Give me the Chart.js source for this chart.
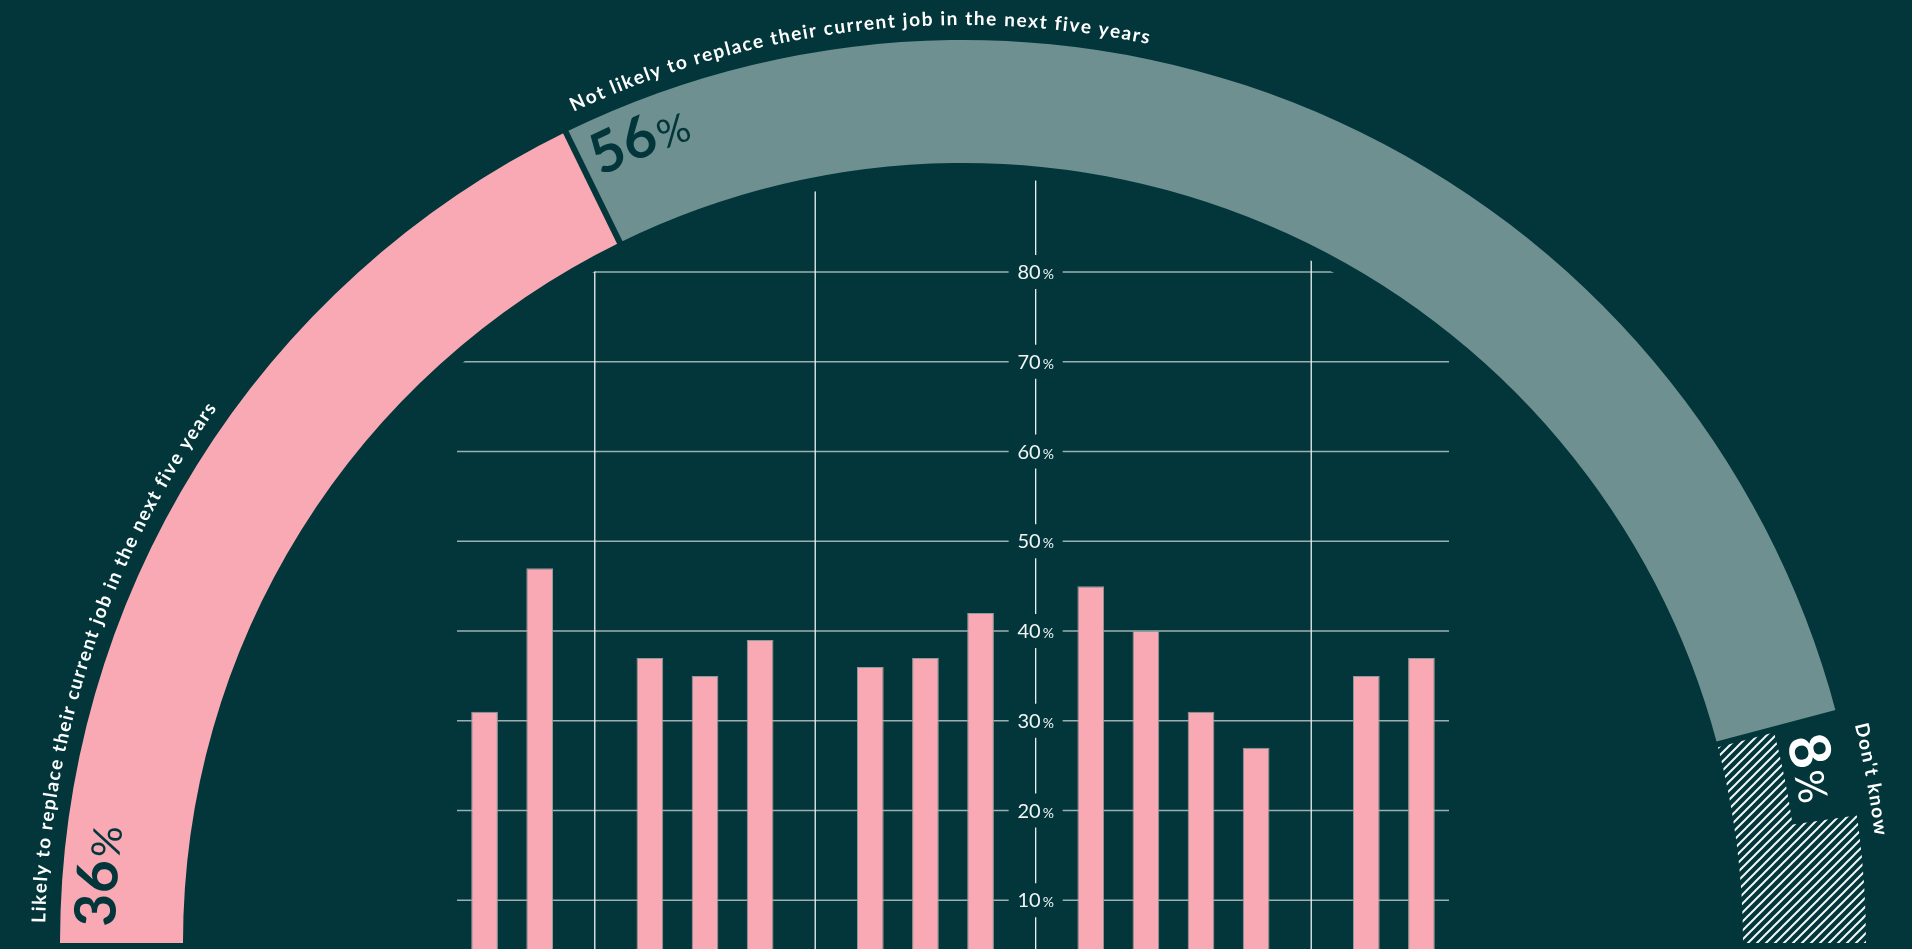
<!DOCTYPE html>
<html><head><meta charset="utf-8">
<script src="https://cdn.jsdelivr.net/npm/chart.js@4.4.1/dist/chart.umd.min.js"></script>
<style>
html,body{margin:0;padding:0;background:#02363a;overflow:hidden;width:1912px;height:949px;}
canvas{position:absolute;left:0;top:0;}
</style></head><body>
<canvas id="ring" width="1912" height="949"></canvas>
<canvas id="bars" width="1912" height="1000"></canvas>
<script>
// ---- data ----
const segmentLabels = ['Likely to replace their current job in the next five years',
                       'Not likely to replace their current job in the next five years',
                       "Don't know"];
const segmentValues = [35.5, 56.3, 8.2];   // arc sizes as read from the ring (printed rounded)
const categories = ['1','2','','3','4','5','','6','7','8','','9','10','11','12','','13','14'];
const barValues  = [31, 47, null, 37, 35, 39, null, 36, 37, 42, null, 45, 40, 31, 27, null, 35, 37];
const yTicks = [10, 20, 30, 40, 50, 60, 70, 80];
const tickSuffix = '%';

// ---- styles ----
const BG = '#02363a', PINK = '#f9a9b4', GREY = '#6e9090', WHITE = '#ffffff';
const FONT = 'Lato, "Open Sans", sans-serif';

function makeHatch(ctx) {
  const s = 9, c = document.createElement('canvas');
  c.width = s; c.height = s;
  const g = c.getContext('2d');
  g.fillStyle = BG; g.fillRect(0, 0, s, s);
  g.strokeStyle = '#f2f6f6'; g.lineWidth = 2;
  g.beginPath();
  g.moveTo(0, s); g.lineTo(s, 0);
  g.moveTo(-1, 1); g.lineTo(1, -1);
  g.moveTo(s - 1, s + 1); g.lineTo(s + 1, s - 1);
  g.stroke();
  return ctx.createPattern(c, 'repeat');
}

function arcLen(ctx, parts, ls) {
  let L = 0;
  for (const p of parts) {
    ctx.font = p.font; L += (p.gap || 0);
    for (const ch of p.t) L += ctx.measureText(ch).width + ls;
  }
  return L;
}
function arcText(ctx, parts, cx, cy, r, a0, color, ls) {
  let a = a0;
  ctx.save();
  ctx.fillStyle = color; ctx.textAlign = 'left'; ctx.textBaseline = 'alphabetic';
  for (const p of parts) {
    ctx.font = p.font; a += (p.gap || 0) / r;
    for (const ch of p.t) {
      const w = ctx.measureText(ch).width;
      ctx.save();
      ctx.translate(cx + r * Math.cos(a), cy + r * Math.sin(a));
      ctx.rotate(a + Math.PI / 2);
      ctx.fillText(ch, 0, 0);
      ctx.restore();
      a += (w + ls) / r;
    }
  }
  ctx.restore();
  return a;
}

const ringDecor = {
  id: 'ringDecor',
  afterDatasetsDraw(chart) {
    const ctx = chart.ctx;
    const arcs = chart.getDatasetMeta(0).data;
    const cx = arcs[0].x, cy = arcs[0].y, ri = arcs[0].innerRadius, ro = arcs[0].outerRadius;
    // separators
    ctx.save();
    ctx.strokeStyle = BG; ctx.lineWidth = 6;
    for (let i = 1; i < arcs.length; i++) {
      const a = arcs[i].startAngle;
      ctx.beginPath();
      ctx.moveTo(cx + (ri - 2) * Math.cos(a), cy + (ri - 2) * Math.sin(a));
      ctx.lineTo(cx + (ro + 2) * Math.cos(a), cy + (ro + 2) * Math.sin(a));
      ctx.stroke();
    }
    ctx.restore();
    // value labels
    const valR = ri + 68;
    const valOffset = [16, 12, 13];
    segmentValues.forEach((v, i) => {
      const parts = [{ t: String(Math.round(v)), font: '700 57px ' + FONT },
                     { t: '%', font: '400 40px ' + FONT, gap: 2 }];
      const a0 = arcs[i].startAngle + valOffset[i] / valR;
      const color = i === 2 ? WHITE : BG;
      if (i === 2) {
        const L = arcLen(ctx, parts, 0);
        const a1 = a0 + (L + 18) / valR;
        ctx.save();
        ctx.fillStyle = BG;
        ctx.beginPath();
        ctx.arc(cx, cy, ro + 6, arcs[i].startAngle, a1);
        ctx.arc(cx, cy, valR - 10, a1, arcs[i].startAngle, true);
        ctx.closePath();
        ctx.fill();
        ctx.restore();
      }
      arcText(ctx, parts, cx, cy, valR, a0, color, 0);
    });
    // outer labels
    const labR = ro + 15;
    const labOffset = [20, 16, 16];
    segmentLabels.forEach((t, i) => {
      const a0 = arcs[i].startAngle + labOffset[i] / labR;
      arcText(ctx, [{ t, font: '700 19px ' + FONT }], cx, cy, labR, a0, WHITE, 1.55);
    });
  }
};

const ringCanvas = document.getElementById('ring');
const hatch = makeHatch(ringCanvas.getContext('2d'));

const ringChart = new Chart(ringCanvas, {
  type: 'doughnut',
  data: {
    labels: segmentLabels,
    datasets: [{ data: segmentValues, backgroundColor: [PINK, GREY, hatch], borderWidth: 0 }]
  },
  options: {
    responsive: false, animation: false, events: [],
    rotation: -90, circumference: 180, radius: 903, cutout: '86.38%',
    layout: { padding: { left: 14, top: 34, right: 0, bottom: 0 } },
    plugins: { legend: { display: false }, tooltip: { enabled: false } }
  },
  plugins: [ringDecor]
});

const gridPlugin = {
  id: 'gridPlugin',
  beforeDatasetsDraw(chart) {
    const ctx = chart.ctx;
    const ring = ringChart.getDatasetMeta(0).data[0];
    const cx = ring.x, cy = ring.y, clipR = ring.innerRadius - 14;
    const { left, right } = chart.chartArea;
    const xs = chart.scales.x, ys = chart.scales.y;
    const gaps = categories.map((c, i) => c === '' ? i : -1).filter(i => i >= 0);
    let labelSlot = gaps[0];
    gaps.forEach(i => { if (Math.abs(xs.getPixelForValue(i) - cx) < Math.abs(xs.getPixelForValue(labelSlot) - cx)) labelSlot = i; });
    ctx.save();
    ctx.beginPath(); ctx.arc(cx, cy, clipR, 0, Math.PI * 2); ctx.clip();
    ctx.beginPath(); ctx.rect(left, 0, right - left, chart.height); ctx.clip();
    ctx.strokeStyle = '#9cb0b0'; ctx.lineWidth = 1.6;
    yTicks.forEach(v => {
      const y = ys.getPixelForValue(v);
      ctx.beginPath(); ctx.moveTo(left, y); ctx.lineTo(right, y); ctx.stroke();
    });
    ctx.strokeStyle = '#eef3f3'; ctx.lineWidth = 1.3;
    gaps.forEach(i => {
      const x = xs.getPixelForValue(i);
      ctx.beginPath(); ctx.moveTo(x, 0); ctx.lineTo(x, chart.height); ctx.stroke();
    });
    ctx.restore();
    // tick labels
    const lx = xs.getPixelForValue(labelSlot);
    ctx.save();
    yTicks.forEach(v => {
      const y = ys.getPixelForValue(v);
      ctx.fillStyle = BG;
      ctx.fillRect(lx - 27, y - 17, 54, 34);
      ctx.font = '400 20px ' + FONT; const w1 = ctx.measureText(String(v)).width;
      ctx.font = '400 14px ' + FONT; const w2 = ctx.measureText(tickSuffix).width;
      const x0 = lx - (w1 + 2 + w2) / 2;
      ctx.fillStyle = '#f0f5f5'; ctx.textBaseline = 'alphabetic'; ctx.textAlign = 'left';
      ctx.font = '400 20px ' + FONT; ctx.fillText(String(v), x0, y + 7);
      ctx.font = '400 14px ' + FONT; ctx.fillText(tickSuffix, x0 + w1 + 2, y + 7);
    });
    ctx.restore();
  }
};

const barChart = new Chart(document.getElementById('bars'), {
  type: 'bar',
  data: {
    labels: categories,
    datasets: [{ data: barValues, backgroundColor: PINK, borderColor: '#8e9c9d', borderWidth: 1,
                 barPercentage: 0.485, categoryPercentage: 1 }]
  },
  options: {
    responsive: false, animation: false, events: [],
    layout: { padding: { left: 457, right: 463, top: 272, bottom: 10 } },
    scales: { x: { display: false }, y: { display: false, min: 0, max: 80 } },
    plugins: { legend: { display: false }, tooltip: { enabled: false } }
  },
  plugins: [gridPlugin]
});
</script>
</body></html>
